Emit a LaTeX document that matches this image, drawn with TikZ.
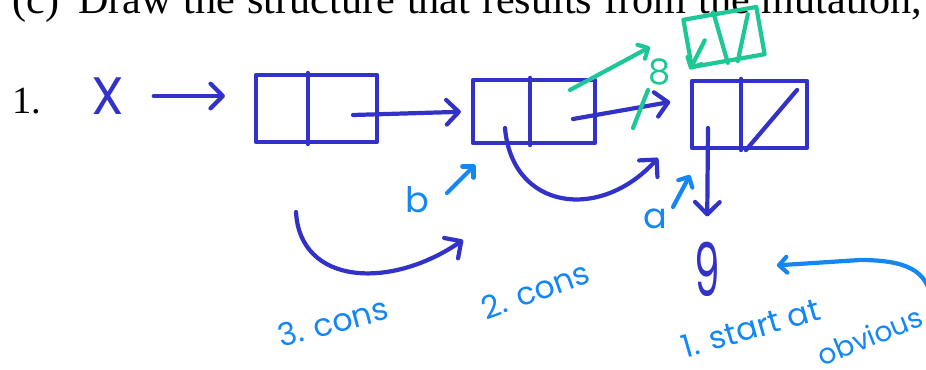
\documentclass[tikz,border=0pt]{standalone}
\usepackage{fontspec}
\setmainfont{Liberation Serif}
\newfontfamily\handfont{Poppins}
\usetikzlibrary{arrows.meta,calc}

\definecolor{ink}{RGB}{50,50,200}
\definecolor{sky}{RGB}{20,135,245}
\definecolor{mint}{RGB}{30,200,150}

\tikzset{
  pen/.style={line width=2.4pt, line cap=round, line join=round},
  tip/.style={-{Straight Barb[round,length=7pt,width=14pt]}},
  smalltip/.style={-{Straight Barb[round,length=4.5pt,width=9pt]}},
  cons/.style={pen, draw=ink, rectangle, inner sep=0pt},
  hand/.style={inner sep=0pt, font=\handfont\fontsize{#1}{#1}\selectfont},
  print/.style={anchor=base west, inner sep=0pt, font=\fontsize{#1}{26}\selectfont},
}

\begin{document}
\begin{tikzpicture}[x=0.02cm, y=-0.02cm]
    \useasboundingbox (0,0) rectangle (926,369);
    \clip (0,0) rectangle (926,369);

    % Testo stampato
    \node[print=24] (lbl) at (12,13) {(c)};
    \node[print=24] (question) at (78,13) {\makebox[16.88cm][s]{Draw the structure that results from the mutation,}};
    \node[print=21.9] (num) at (12,113) {1.};

    % Celle cons
    \node[cons, minimum width=2.42cm, minimum height=1.34cm] (b1) at (316.5,108.5) {};
    \node[cons, minimum width=2.44cm, minimum height=1.26cm] (b2) at (534,111.5) {};
    \node[cons, minimum width=2.30cm, minimum height=1.34cm] (b3) at (749.5,114.5) {};
    \node[cons, draw=mint, minimum width=1.48cm, minimum height=0.96cm, rotate=10] (b4) at (724,37) {};

    \foreach \b/\f in {b1/0.43, b2/0.47, b3/0.43}
        \draw[pen, ink] ($(\b.north west)!\f!(\b.north east)$) -- ($(\b.south west)!\f!(\b.south east)$);
    \draw[pen, mint] ($(b4.north west)!0.42!(b4.north east)$) -- ($(b4.south west)!0.49!(b4.south east)$);

    % Cdr vuoti
    \draw[pen, ink] ($(b3.north east)+(-12,11)$) -- ($(b3.south west)!0.47!(b3.south east)$);
    \draw[pen, mint] ($(b4.north east)!0.15!(b4.south west)$) -- ($(b4.south west)!0.62!(b4.south east)$);

    % Etichette
    \node[hand=30, ink] (X) at (108,96) {X};
    \node[hand=42, ink, xscale=0.55, transform shape] (nine) at (707,269) {9};
    \node[hand=20, sky] (lb) at (417,200) {b};
    \node[hand=20, sky] (la) at (655,219) {a};
    \node[hand=20, mint] (eight) at (660,72) {8};
    \node[hand=18, sky, rotate=15] (step3) at (333,322) {3. cons};
    \node[hand=18, sky, rotate=20] (step2) at (535,290) {2. cons};
    \node[hand=18, sky, rotate=16] (step1) at (751,328) {1. start at};
    \node[hand=16, sky, rotate=22] (obv) at (870,336) {obvious};

    % Punti di partenza
    \coordinate (b1d) at (353,115);
    \coordinate (b2d) at (573,119);
    \coordinate (b2a) at (505,128);
    \coordinate (b3a) at (708,128);
    \coordinate (b3in) at (658,158);
    \coordinate (c3s) at (296,212);
    \coordinate (c3e) at (463,240);
    \coordinate (bs) at (447,193);
    \coordinate (be) at (475,165);
    \coordinate (as) at (673,207);
    \coordinate (ae) at (690,175);
    \coordinate (gs) at (570,90);
    \coordinate (ge) at (650,47);
    \coordinate (nt) at (931,300);

    % Puntatori
    \draw[pen, ink, tip, shorten <=0.58cm, shorten >=0.58cm] (X.east) -- (X.east -| b1.west);
    \draw[pen, ink, tip, shorten >=0.2cm] (b1d) -- (b2.west);
    \draw[pen, ink, tip, shorten >=0.4cm] (b2d) -- ($(b3.west)!0.45!(b3.north west)$);
    \draw[pen, ink, tip] (b2a) .. controls (512,210) and (600,222) .. (b3in);
    \draw[pen, ink, tip] (c3s) .. controls (300,285) and (390,290) .. (c3e);
    \draw[pen, ink, tip, shorten >=0.5cm] (b3a) -- (nine.north);

    % Mutazione
    \draw[pen, mint] (648,90) -- (633,128);
    \draw[pen, mint, smalltip] (gs) -- (ge);
    \draw[pen, mint, smalltip] ($(b4.west)!0.5!(b4.center)$) -- (b4.south west);

    % Note
    \draw[pen, sky, smalltip] (bs) -- (be);
    \draw[pen, sky, smalltip] (as) -- (ae);
    \draw[pen, sky, smalltip, shorten >=1.14cm] (nt) .. controls (928,270) and (905,260) .. (860,260) -- (nine.east);
\end{tikzpicture}
\end{document}
